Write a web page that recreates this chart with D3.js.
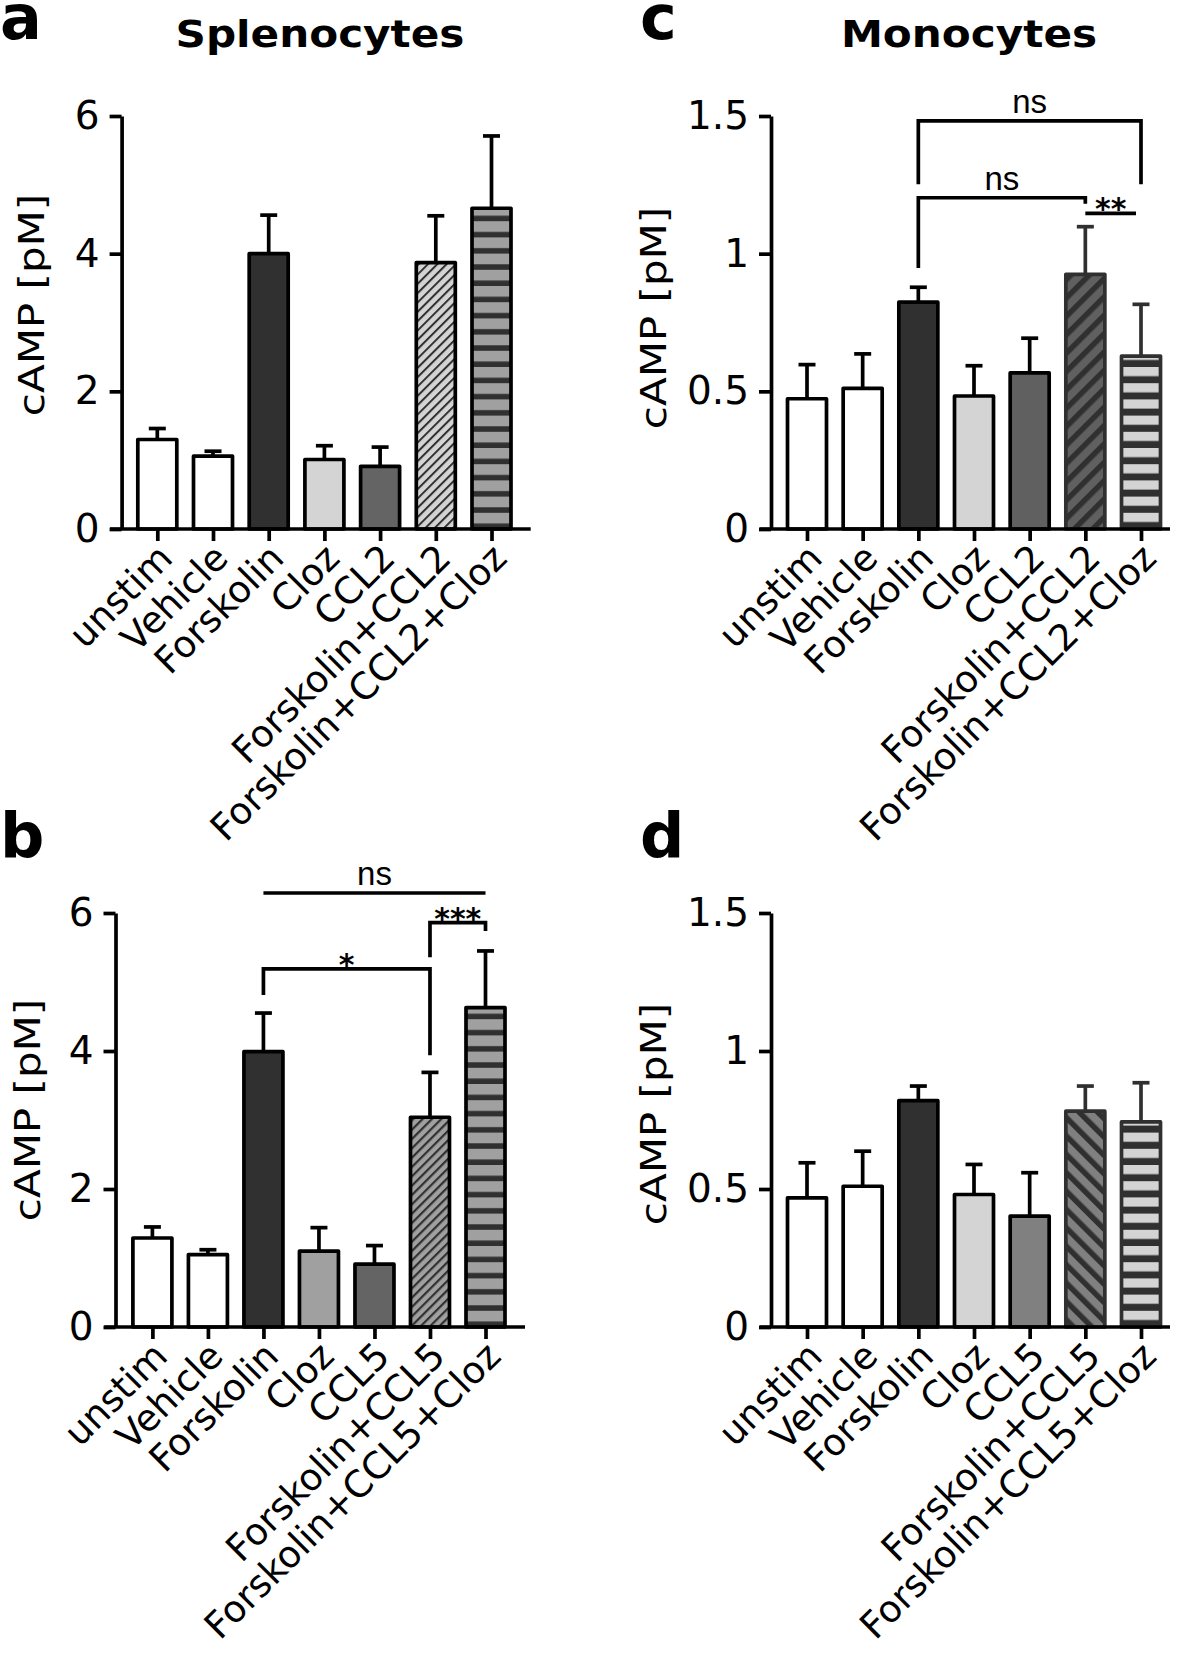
<!DOCTYPE html>
<html><head><meta charset="utf-8">
<script src="https://cdn.jsdelivr.net/npm/d3@7"></script>
<style>
body{margin:0;background:#fff}
svg{display:block}
text{font-family:"DejaVu Sans",Verdana,sans-serif;fill:#000}
</style>
</head><body><svg id="chart" width="1181" height="1653"></svg>
<script>
// ---------- data ----------
const catsA = ["unstim","Vehicle","Forskolin","Cloz","CCL2","Forskolin+CCL2","Forskolin+CCL2+Cloz"];
const catsB = ["unstim","Vehicle","Forskolin","Cloz","CCL5","Forskolin+CCL5","Forskolin+CCL5+Cloz"];
const meanA = [1.30,1.06,4.00,1.01,0.91,3.87,4.66];
const errA  = [1.46,1.13,4.56,1.21,1.19,4.55,5.71];
const meanB = [1.29,1.05,3.99,1.10,0.91,3.04,4.63];
const errB  = [1.45,1.12,4.55,1.44,1.18,3.69,5.45];
const meanC = [0.473,0.511,0.824,0.483,0.567,0.925,0.628];
const errC  = [0.597,0.636,0.878,0.593,0.693,1.098,0.816];
const meanD = [0.468,0.510,0.820,0.480,0.402,0.782,0.743];
const errD  = [0.595,0.637,0.873,0.589,0.559,0.873,0.885];
const ticksSpleno = [0,2,4,6];
const tickLabelsSpleno = ["0","2","4","6"];
const ticksMono = [0,0.5,1,1.5];
const tickLabelsMono = ["0","0.5","1","1.5"];
const yLabel = "cAMP [pM]";
const titles = ["Splenocytes","Monocytes"];
const panelLetters = ["a","b","c","d"];
// significance brackets: [fromIndex, toIndex, lineValue, leftLegValue, rightLegValue, label]
const sigB = [[2,6,6.29,null,null,"ns"],[5,6,5.86,5.36,5.74,"***"],[2,5,5.19,4.81,3.94,"*"]];
const sigC = [[2,6,1.482,1.252,1.252,"ns"],[2,5,1.203,0.948,1.181,"ns"],[5,6,1.146,null,null,"**"]];

// ---------- styles ----------
const fillsA = ["#fff","#fff","#303030","#d4d4d4","#646464","url(#hatchA)","url(#stripeA)"];
const fillsB = ["#fff","#fff","#303030","#a0a0a0","#646464","url(#hatchB)","url(#stripeB)"];
const fillsC = ["#fff","#fff","#303030","#d4d4d4","#606060","url(#hatchC)","url(#stripeC)"];
const fillsD = ["#fff","#fff","#303030","#d4d4d4","#808080","url(#hatchD)","url(#stripeD)"];
const strokesAB = ["#000","#000","#000","#000","#000","#000","#000"];
const strokesCD = ["#000","#000","#000","#000","#000","#303030","#303030"];

const svg = d3.select("#chart");
const defs = svg.append("defs");
function stripe(id, light, dark, period, darkH, y0){
  const p = defs.append("pattern").attr("id",id).attr("patternUnits","userSpaceOnUse")
    .attr("width",10).attr("height",period).attr("patternTransform",`translate(0,${y0})`);
  p.append("rect").attr("width",10).attr("height",period).attr("fill",light);
  p.append("rect").attr("y",period-darkH).attr("width",10).attr("height",darkH).attr("fill",dark);
}
function hatch(id, bg, fg, period, w, angle){
  const p = defs.append("pattern").attr("id",id).attr("patternUnits","userSpaceOnUse")
    .attr("width",period).attr("height",period).attr("patternTransform",`rotate(${angle})`);
  p.append("rect").attr("width",period).attr("height",period).attr("fill",bg);
  p.append("rect").attr("width",w).attr("height",period).attr("fill",fg);
}
hatch("hatchA","#d4d4d4","#303030",6.6,2.0,45);
hatch("hatchB","#a0a0a0","#303030",6.6,2.2,45);
hatch("hatchC","#606060","#303030",13,5.5,45);
hatch("hatchD","#808080","#303030",13,5.5,-45);
stripe("stripeA","#a0a0a0","#303030",16.2,5.5,529);
stripe("stripeB","#a0a0a0","#303030",16.2,5.5,1327);
stripe("stripeC","#d4d4d4","#303030",16.2,7,529);
stripe("stripeD","#d4d4d4","#303030",16.2,7,1327);

const LW = 3.7, BW = 39;

function panel(cfg){
  const y = d3.scaleLinear().domain(cfg.yDomain).range([cfg.yZero, cfg.yTop]);
  const x = d3.scalePoint().domain(cfg.cats).range([cfg.c0, cfg.c6]);
  const g = svg.append("g");
  const idx = cfg.cats.map((d,i)=>i);

  g.selectAll("line.eb").data(idx).join("line")
    .attr("x1",i=>x(cfg.cats[i])).attr("x2",i=>x(cfg.cats[i]))
    .attr("y1",i=>y(cfg.mean[i])).attr("y2",i=>y(cfg.err[i]))
    .attr("stroke",i=>cfg.strokes[i]).attr("stroke-width",LW);
  g.selectAll("line.cap").data(idx).join("line")
    .attr("x1",i=>x(cfg.cats[i])-8.5).attr("x2",i=>x(cfg.cats[i])+8.5)
    .attr("y1",i=>y(cfg.err[i])).attr("y2",i=>y(cfg.err[i]))
    .attr("stroke",i=>cfg.strokes[i]).attr("stroke-width",LW);
  g.selectAll("rect.bar").data(idx).join("rect")
    .attr("x",i=>x(cfg.cats[i])-BW/2).attr("width",BW)
    .attr("y",i=>y(cfg.mean[i])).attr("height",i=>y(0)-y(cfg.mean[i]))
    .attr("fill",i=>cfg.fills[i]).attr("stroke",i=>cfg.strokes[i])
    .attr("stroke-width",LW).attr("stroke-linejoin","round");

  // y axis
  const ya = d3.axisLeft(y).tickValues(cfg.ticks).tickFormat((d,i)=>cfg.tickLabels[i])
    .tickSize(12).tickSizeOuter(0).tickPadding(10);
  const yg = g.append("g").attr("transform",`translate(${cfg.axisX},0)`).call(ya);
  yg.selectAll("path,line").attr("stroke","#000").attr("stroke-width",LW);
  yg.selectAll("text").style("font-size","39px").style("font-family","'DejaVu Sans',sans-serif").attr("fill","#000");

  // x axis
  g.append("line").attr("x1",cfg.xStart).attr("x2",cfg.xEnd)
    .attr("y1",y(0)).attr("y2",y(0)).attr("stroke","#000").attr("stroke-width",LW);
  const xa = d3.axisBottom(x).tickSize(12).tickSizeOuter(0).tickFormat("");
  const xg = g.append("g").attr("transform",`translate(0,${y(0)})`).call(xa);
  xg.select(".domain").remove();
  xg.selectAll("line").attr("stroke","#000").attr("stroke-width",LW);
  g.selectAll("text.xl").data(cfg.cats).join("text")
    .attr("transform",d=>`translate(${x(d)+8},${y(0)+22}) rotate(-45)`)
    .attr("text-anchor","end").attr("dy","0.35em")
    .style("font-size","37px").text(d=>d);

  // y label
  g.append("text").attr("transform",`translate(${cfg.labelX},${cfg.labelY}) rotate(-90) scale(1.2,1)`)
    .attr("text-anchor","middle").style("font-size","35px").text(yLabel);

  // significance
  (cfg.sig||[]).forEach(s=>{
    const [a,b,v,l1,l2,lab] = s;
    const xa1 = x(cfg.cats[a]), xb1 = x(cfg.cats[b]) - (lab==="**"?5:0);
    let d = `M${xa1},${l1===null?y(v):y(l1)}V${y(v)}H${xb1}`;
    if(l2!==null) d += `V${y(l2)}`;
    g.append("path").attr("d",d).attr("fill","none").attr("stroke","#000").attr("stroke-width",LW);
    const isStar = lab.indexOf("*")>=0;
    g.append("text").attr("x",(xa1+xb1)/2).attr("y",y(v)-(isStar?-6:8))
      .attr("text-anchor","middle")
      .style("font-family",isStar?"'DejaVu Sans',sans-serif":"'Liberation Sans',Arial,sans-serif")
      .style("font-size",isStar?"30px":"33px").style("font-weight",isStar?"bold":"normal")
      .text(lab);
  });
}

panel({cats:catsA,mean:meanA,err:errA,fills:fillsA,strokes:strokesAB,yDomain:[0,6],ticks:ticksSpleno,tickLabels:tickLabelsSpleno,
  axisX:121.6,yTop:116,yZero:529,c0:157.3,c6:491.5,xStart:110,xEnd:530.7,labelX:44,labelY:305});
panel({cats:catsB,mean:meanB,err:errB,fills:fillsB,strokes:strokesAB,yDomain:[0,6],ticks:ticksSpleno,tickLabels:tickLabelsSpleno,
  axisX:115.5,yTop:913,yZero:1327,c0:152.4,c6:485.5,xStart:104.3,xEnd:525,labelX:40,labelY:1110,sig:sigB});
panel({cats:catsA,mean:meanC,err:errC,fills:fillsC,strokes:strokesCD,yDomain:[0,1.5],ticks:ticksMono,tickLabels:tickLabelsMono,
  axisX:771,yTop:116,yZero:529,c0:807,c6:1141,xStart:759.6,xEnd:1170,labelX:666,labelY:318,sig:sigC});
panel({cats:catsB,mean:meanD,err:errD,fills:fillsD,strokes:strokesCD,yDomain:[0,1.5],ticks:ticksMono,tickLabels:tickLabelsMono,
  axisX:771,yTop:913,yZero:1327,c0:807,c6:1141,xStart:759.6,xEnd:1170,labelX:666,labelY:1114});

// titles and letters
svg.append("text").attr("transform","translate(320,47) scale(1.14,1)").attr("text-anchor","middle")
  .style("font-size","37px").style("font-weight","bold").text(titles[0]);
svg.append("text").attr("transform","translate(969,47) scale(1.14,1)").attr("text-anchor","middle")
  .style("font-size","37px").style("font-weight","bold").text(titles[1]);
const letterPos = [[0,39],[0,857],[640,39],[640,857]];
panelLetters.forEach((l,i)=>{
  svg.append("text").attr("x",letterPos[i][0]).attr("y",letterPos[i][1])
    .style("font-size","62px").style("font-weight","bold").text(l);
});
</script>
</body></html>
